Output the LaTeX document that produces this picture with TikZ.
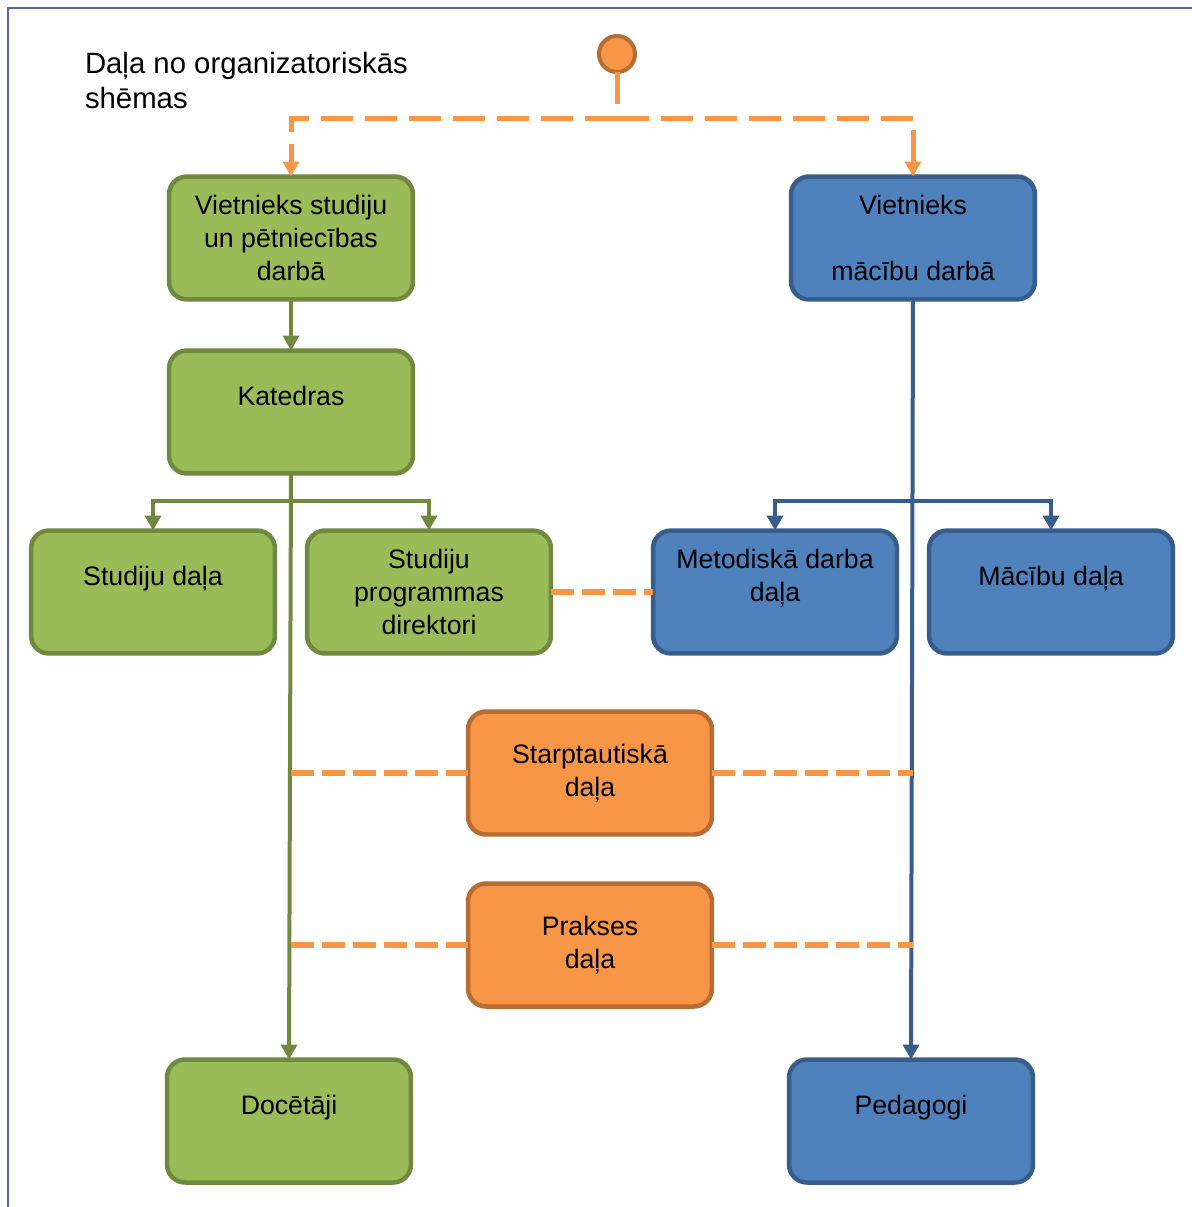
\documentclass[tikz,border=0pt]{standalone}
\usepackage{fontspec}
\setmainfont{Liberation Sans}
\usetikzlibrary{arrows.meta}

\definecolor{gfill}{RGB}{155,187,89}
\definecolor{gline}{RGB}{113,137,63}
\definecolor{bfill}{RGB}{79,129,189}
\definecolor{bline}{RGB}{56,93,138}
\definecolor{ofill}{RGB}{247,150,70}
\definecolor{oline}{RGB}{182,109,49}
\definecolor{framec}{RGB}{91,97,181}

\begin{document}
\begin{tikzpicture}[
        x = 0.02cm, y = -0.02cm,
        outer sep = 0mm, inner sep = 0mm,
        box/.style = {
          rectangle, rounded corners = 0.36cm, line width = 0.09cm,
          minimum width = 4.88cm, minimum height = 2.46cm,
          align = center, font = \fontsize{15.2}{18.8}\selectfont
        },
        gbox/.style = {box, draw = gline, fill = gfill},
        bbox/.style = {box, draw = bline, fill = bfill},
        obox/.style = {box, draw = oline, fill = ofill},
        arr/.style = {-{Triangle[width = 0.32cm, length = 0.3cm]}},
        gcon/.style = {draw = gline, line width = 0.08cm},
        bcon/.style = {draw = bline, line width = 0.08cm},
        odash/.style = {draw = ofill, line width = 0.13cm,
          dash pattern = on 0.46cm off 0.16cm},
        topdash/.style = {draw = ofill, line width = 0.1cm,
          dash pattern = on 0.64cm off 0.24cm}
      ]
      \useasboundingbox (0,0) rectangle (1192,1207);

      % frame
      \draw[framec, line width = 0.04cm] (8,1207) -- (8,8) -- (1192,8);

      \node[anchor = base west, align = left,
        font = \fontsize{16.7}{19.9}\selectfont] (title) at (85,108)
        {Daļa no organizatoriskās\\shēmas};

      \node[circle, minimum size = 0.72cm, fill = ofill, draw = oline,
        line width = 0.08cm] (top) at (617,54) {};

      \node[gbox] (vsp) at (291,238) {Vietnieks studiju\\un pētniecības\\darbā};
      \node[bbox] (vmd) at (913,238) {Vietnieks\\~\\mācību darbā};
      \node[gbox] (kat) at (291,412) {Katedras\\~};
      \node[gbox] (sd) at (153,592) {Studiju daļa\\~};
      \node[gbox] (spd) at (429,592) {Studiju\\programmas\\direktori};
      \node[bbox] (met) at (775,592) {Metodiskā darba\\daļa\\~};
      \node[bbox] (mac) at (1051,592) {Mācību daļa\\~};
      \node[obox] (st) at (590,773) {Starptautiskā\\daļa};
      \node[obox] (pr) at (590,945) {Prakses\\daļa};
      \node[gbox] (doc) at (289,1121) {Docētāji\\~};
      \node[bbox] (ped) at (911,1121) {Pedagogi\\~};

      % top
      \coordinate (tj) at (617,118);
      \draw[topdash] (top.south) to (tj);
      \draw[topdash, arr] (tj) -| (vsp.north);
      \draw[topdash, arr] (tj) -| (vmd.north);

      % green side
      \draw[gcon, arr] (vsp.south) to (kat.north);
      \draw[gcon, arr] (kat.south) to (doc.north);
      \coordinate (kb) at (291,501);
      \draw[gcon, arr] (kb) -| (sd.north);
      \draw[gcon, arr] (kb) -| (spd.north);

      % blue side
      \draw[bcon, arr] (vmd.south) to (ped.north);
      \coordinate (mb) at (913,501);
      \draw[bcon, arr] (mb) -| (met.north);
      \draw[bcon, arr] (mb) -| (mac.north);

      % dashed links
      \draw[odash] (spd.east) to (met.west);
      \draw[odash] (st.west -| kat.south) to (st.west);
      \draw[odash] (st.east) to (st.east -| vmd.south);
      \draw[odash] (pr.west -| kat.south) to (pr.west);
      \draw[odash] (pr.east) to (pr.east -| vmd.south);
    \end{tikzpicture}
\end{document}
